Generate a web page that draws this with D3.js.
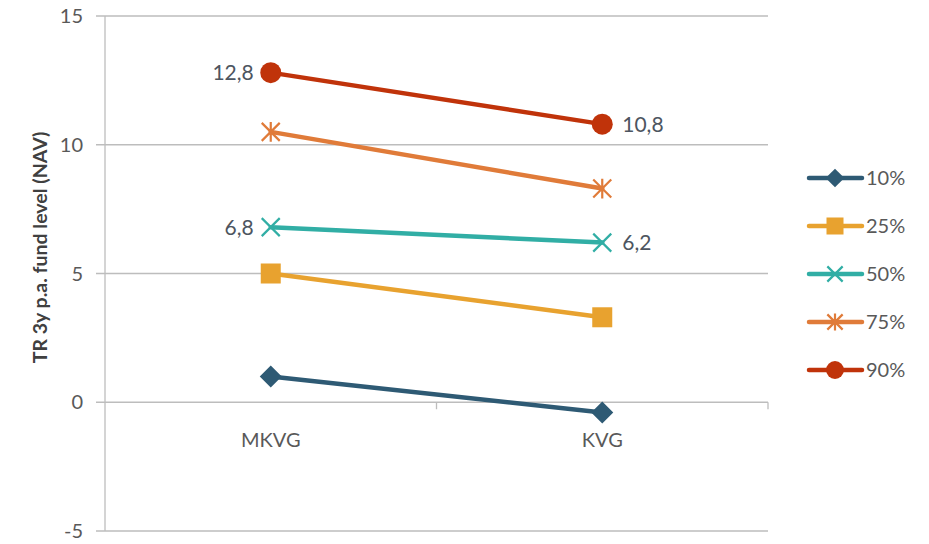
<!DOCTYPE html>
<html>
<head>
<meta charset="utf-8">
<script src="https://cdn.jsdelivr.net/npm/d3@7"></script>
<style>
  body { margin: 0; background: #fff; }
  svg text { font-family: Lato, "Open Sans", sans-serif; }
</style>
</head>
<body>
<div id="container"></div>
<script>
/** DATA */
const categories = ["MKVG", "KVG"];
const seriesNames = ["10%", "25%", "50%", "75%", "90%"];
const values10 = [1.0, -0.4];
const values25 = [5.0, 3.3];
const values50 = [6.8, 6.2];
const values75 = [10.5, 8.3];
const values90 = [12.8, 10.8];
const yTicks = [-5, 0, 5, 10, 15];
// which series get value labels
const labelledSeries = ["50%", "90%"];

const seriesColors = ["#2e5a74", "#e8a22f", "#31aea5", "#e07b39", "#c0330a"];
const seriesMarkers = ["diamond", "square", "x", "star", "circle"];

const series = seriesNames.map((name, i) => ({
  name,
  values: [values10, values25, values50, values75, values90][i],
  color: seriesColors[i],
  marker: seriesMarkers[i]
}));

/** CONSTANTS */
const width = 929, height = 544;
const margin = { top: 16, bottom: 13, left: 105, right: 161 };

const svg = d3.select("#container")
  .append("svg")
  .attr("width", width)
  .attr("height", height);

const x = d3.scaleBand()
  .domain(categories)
  .range([margin.left, width - margin.right]);

const y = d3.scaleLinear()
  .domain([-5, 15])
  .range([height - margin.bottom, margin.top]);

// gridlines + ticks
svg.append("g")
  .selectAll("line")
  .data(yTicks)
  .join("line")
  .attr("x1", margin.left - 9)
  .attr("x2", width - margin.right)
  .attr("y1", d => y(d))
  .attr("y2", d => y(d))
  .attr("stroke", "#bdbdbd")
  .attr("stroke-width", 1.3);

// y axis line
svg.append("line")
  .attr("x1", margin.left).attr("x2", margin.left)
  .attr("y1", y(15)).attr("y2", y(-5))
  .attr("stroke", "#bdbdbd")
  .attr("stroke-width", 1.3);

// x axis tick marks on zero line
svg.append("g")
  .selectAll("line")
  .data([margin.left + x.bandwidth(), width - margin.right])
  .join("line")
  .attr("x1", d => d).attr("x2", d => d)
  .attr("y1", y(0)).attr("y2", y(0) + 7)
  .attr("stroke", "#bdbdbd")
  .attr("stroke-width", 1.3);

// y tick labels
svg.append("g")
  .selectAll("text")
  .data(yTicks)
  .join("text")
  .attr("x", 83)
  .attr("y", d => y(d))
  .attr("dy", "0.35em")
  .attr("text-anchor", "end")
  .attr("fill", "#595959")
  .style("font-size", "20px")
  .text(d => d);

// category labels
svg.append("g")
  .selectAll("text")
  .data(categories)
  .join("text")
  .attr("x", d => x(d) + x.bandwidth() / 2)
  .attr("y", y(0) + 45)
  .attr("text-anchor", "middle")
  .attr("fill", "#595959")
  .style("font-size", "20px")
  .text(d => d);

// y axis title
svg.append("text")
  .attr("transform", `translate(40, ${(y(15) + y(-5)) / 2 - 26}) rotate(-90)`)
  .attr("dy", "0.35em")
  .attr("text-anchor", "middle")
  .attr("fill", "#404040")
  .style("font-size", "19.5px")
  .style("font-weight", "bold")
  .text("TR 3y p.a. fund level (NAV)");

const cx = d => x(d) + x.bandwidth() / 2;

function drawMarker(g, type, color, px, py, scale) {
  const s = scale || 1;
  if (type === "diamond") {
    g.append("path")
      .attr("d", `M${px},${py - 11 * s}L${px + 11 * s},${py}L${px},${py + 11 * s}L${px - 11 * s},${py}Z`)
      .attr("fill", color);
  } else if (type === "square") {
    g.append("rect")
      .attr("x", px - 10 * s).attr("y", py - 10 * s)
      .attr("width", 20 * s).attr("height", 20 * s)
      .attr("fill", color);
  } else if (type === "circle") {
    g.append("circle")
      .attr("cx", px).attr("cy", py).attr("r", 10.5 * s)
      .attr("fill", color);
  } else if (type === "x") {
    const r = 9 * s;
    g.append("path")
      .attr("d", `M${px - r},${py - r}L${px + r},${py + r}M${px - r},${py + r}L${px + r},${py - r}`)
      .attr("stroke", color).attr("stroke-width", 2.2).attr("fill", "none");
  } else if (type === "star") {
    const r = 9 * s;
    g.append("path")
      .attr("d", `M${px - r},${py - r}L${px + r},${py + r}M${px - r},${py + r}L${px + r},${py - r}M${px},${py - r * 1.1}L${px},${py + r * 1.1}`)
      .attr("stroke", color).attr("stroke-width", 2.2).attr("fill", "none");
  }
}

const line = d3.line()
  .x((d, i) => cx(categories[i]))
  .y(d => y(d));

const plot = svg.append("g");
series.forEach(s => {
  plot.append("path")
    .datum(s.values)
    .attr("d", line)
    .attr("fill", "none")
    .attr("stroke", s.color)
    .attr("stroke-width", 4.5)
    .attr("stroke-linecap", "round");
  s.values.forEach((v, i) => {
    drawMarker(plot, s.marker, s.color, cx(categories[i]), y(v));
  });
  if (labelledSeries.includes(s.name)) {
    s.values.forEach((v, i) => {
      plot.append("text")
        .attr("x", cx(categories[i]) + (i === 0 ? -17 : 20))
        .attr("y", y(v))
        .attr("dy", "0.35em")
        .attr("text-anchor", i === 0 ? "end" : "start")
        .attr("fill", "#4d5560")
        .style("font-size", "21px")
        .text(v.toFixed(1).replace(".", ","));
    });
  }
});

// legend
const legend = svg.append("g");
series.forEach((s, i) => {
  const ly = 178 + i * 48;
  const g = legend.append("g");
  g.append("line")
    .attr("x1", 809).attr("x2", 862)
    .attr("y1", ly).attr("y2", ly)
    .attr("stroke", s.color)
    .attr("stroke-width", 4.5)
    .attr("stroke-linecap", "round");
  drawMarker(g, s.marker, s.color, 835, ly, 0.85);
  g.append("text")
    .attr("x", 866)
    .attr("y", ly)
    .attr("dy", "0.35em")
    .attr("fill", "#595959")
    .style("font-size", "20px")
    .text(s.name);
});
</script>
</body>
</html>
